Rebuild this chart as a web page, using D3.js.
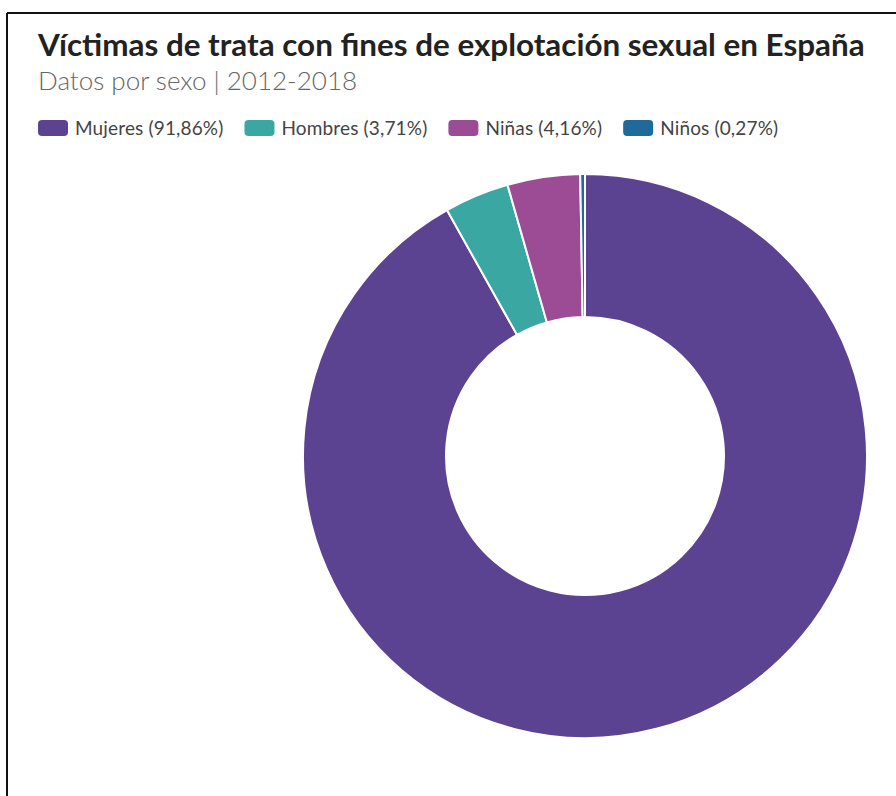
<!DOCTYPE html>
<html>
<head>
<meta charset="utf-8">
<script src="https://cdn.jsdelivr.net/npm/d3@7"></script>
<style>
  body { margin: 0; background: #fff; }
  text { font-family: Lato, "Open Sans", sans-serif; }
</style>
</head>
<body>
<div id="chart"></div>
<script>
const categories = ['Mujeres', 'Hombres', 'Niñas', 'Niños'];
const values = [91.86, 3.71, 4.16, 0.27];
const labels = ['Mujeres (91,86%)', 'Hombres (3,71%)', 'Niñas (4,16%)', 'Niños (0,27%)'];
const colors = ['#5b4392', '#3aa7a3', '#9b4c94', '#1e6b9b'];

const width = 896, height = 796;
const cx = 585, cy = 456, outer = 282, inner = 139;

const svg = d3.select('#chart')
  .append('svg')
  .attr('width', width)
  .attr('height', height);

// frame lines (top and left)
svg.append('line').attr('x1', 7).attr('x2', width).attr('y1', 13).attr('y2', 13)
  .attr('stroke', '#111').attr('stroke-width', 2);
svg.append('line').attr('x1', 7).attr('x2', 7).attr('y1', 13).attr('y2', height)
  .attr('stroke', '#111').attr('stroke-width', 2);

svg.append('text')
  .attr('x', 38).attr('y', 56)
  .attr('font-size', 31.4).attr('font-weight', 700).attr('fill', '#222')
  .text('Víctimas de trata con fines de explotación sexual en España');

svg.append('text')
  .attr('x', 38).attr('y', 90)
  .attr('font-size', 26).attr('font-weight', 300).attr('fill', '#666')
  .text('Datos por sexo | 2012-2018');

// legend
const legend = svg.append('g').attr('transform', 'translate(38,120)');
let lx = 0;
labels.forEach((lab, i) => {
  const g = legend.append('g').attr('transform', `translate(${lx},0)`);
  g.append('rect').attr('width', 30).attr('height', 16).attr('rx', 4)
    .attr('fill', colors[i]);
  const t = g.append('text').attr('x', 37).attr('y', 15)
    .attr('font-size', 19).attr('letter-spacing', 0.15).attr('fill', '#444').text(lab);
  lx += 37 + t.node().getComputedTextLength() + 21;
});

const pie = d3.pie().sort(null).value(d => d);
const arc = d3.arc().innerRadius(inner).outerRadius(outer);

svg.append('g')
  .attr('transform', `translate(${cx},${cy})`)
  .selectAll('path')
  .data(pie(values))
  .enter().append('path')
  .attr('d', arc)
  .attr('fill', (d, i) => colors[i])
  .attr('stroke', '#fff')
  .attr('stroke-width', 2);
</script>
</body>
</html>
